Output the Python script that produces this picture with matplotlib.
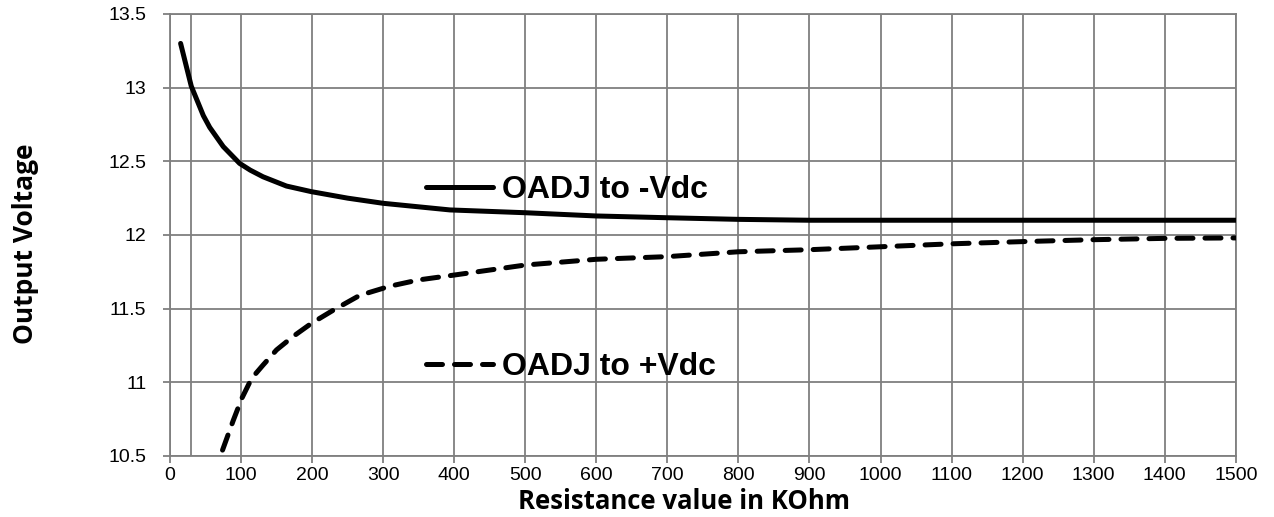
import matplotlib
matplotlib.use("Agg")
import matplotlib.pyplot as plt
from matplotlib.lines import Line2D

# resistance (KOhm) and output voltage
r_neg = [15, 30, 47, 56, 75, 98, 113, 131, 164, 199, 250, 300, 394, 500, 600, 700, 800, 900, 1000, 1100, 1200, 1300, 1400, 1500]
v_neg = [13.30, 13.01, 12.81, 12.73, 12.60, 12.486, 12.44, 12.395, 12.332, 12.294, 12.25, 12.215, 12.17, 12.151, 12.129, 12.117, 12.106, 12.10, 12.10, 12.10, 12.10, 12.10, 12.10, 12.10]

r_pos = [74, 89, 101, 115, 131, 150, 173, 199, 230, 267, 310, 350, 400, 500, 600, 700, 800, 900, 1000, 1100, 1200, 1300, 1400, 1500]
v_pos = [10.54, 10.74, 10.89, 11.027, 11.117, 11.22, 11.31, 11.40, 11.49, 11.59, 11.653, 11.695, 11.728, 11.796, 11.835, 11.853, 11.886, 11.90, 11.92, 11.94, 11.955, 11.968, 11.977, 11.98]

x_ticks = list(range(0, 1501, 100))
y_ticks = [10.5, 11, 11.5, 12, 12.5, 13, 13.5]
y_labels = ["10.5", "11", "11.5", "12", "12.5", "13", "13.5"]

plt.rcParams['font.family'] = ['Liberation Sans', 'DejaVu Sans']

fig = plt.figure(figsize=(12.74, 5.17), dpi=100)
ax = fig.add_axes([0.1334, 0.118, 0.8366, 0.855])

grid_col = '#7f7f7f'
# odd extra gridline near the left edge, as in the original
for x in x_ticks + [30]:
    ax.axvline(x, color=grid_col, lw=1.3, zorder=1)
for y in y_ticks:
    ax.axhline(y, color=grid_col, lw=1.3, zorder=1)

ax.plot(r_neg, v_neg, color='black', lw=3.6, solid_capstyle='round',
        solid_joinstyle='round', zorder=3)
ax.plot(r_pos, v_pos, color='black', lw=3.6, dashes=(3.2, 2.4),
        dash_capstyle='round', zorder=3)

ax.set_xlim(0, 1500)
ax.set_ylim(10.5, 13.5)
ax.set_xticks(x_ticks)
ax.set_yticks(y_ticks)
ax.set_yticklabels(y_labels)
ax.tick_params(axis='both', labelsize=14, color=grid_col, length=5, width=1.3)
ax.tick_params(axis='y', pad=12)
ax.tick_params(axis='x', pad=3)
for s in ax.spines.values():
    s.set_color(grid_col)
    s.set_linewidth(1.3)

ax.set_xlabel('Resistance value in KOhm', fontsize=18.5, fontweight='bold',
              family='Open Sans')
ax.xaxis.set_label_coords(0.482, -0.072, transform=ax.transAxes)
ax.xaxis.label.set_va('top')
ax.set_ylabel('Output Voltage', fontsize=19, fontweight='bold',
              family='Open Sans')
ax.yaxis.set_label_coords(-0.123, 0.48)

# in-plot legend labels
h1 = Line2D([], [], color='black', lw=3.6, solid_capstyle='round')
h2 = Line2D([], [], color='black', lw=3.6, dashes=(3.2, 2.4), dash_capstyle='round')
leg = ax.legend([h1, h2], ['OADJ to -Vdc', 'OADJ to +Vdc'], loc='upper left',
                bbox_to_anchor=(0.213, 0.70), frameon=False, handlelength=2.1,
                handletextpad=0.3, labelspacing=4.6,
                prop={'size': 23, 'weight': 'bold'})

fig.savefig('out.png', dpi=100)
